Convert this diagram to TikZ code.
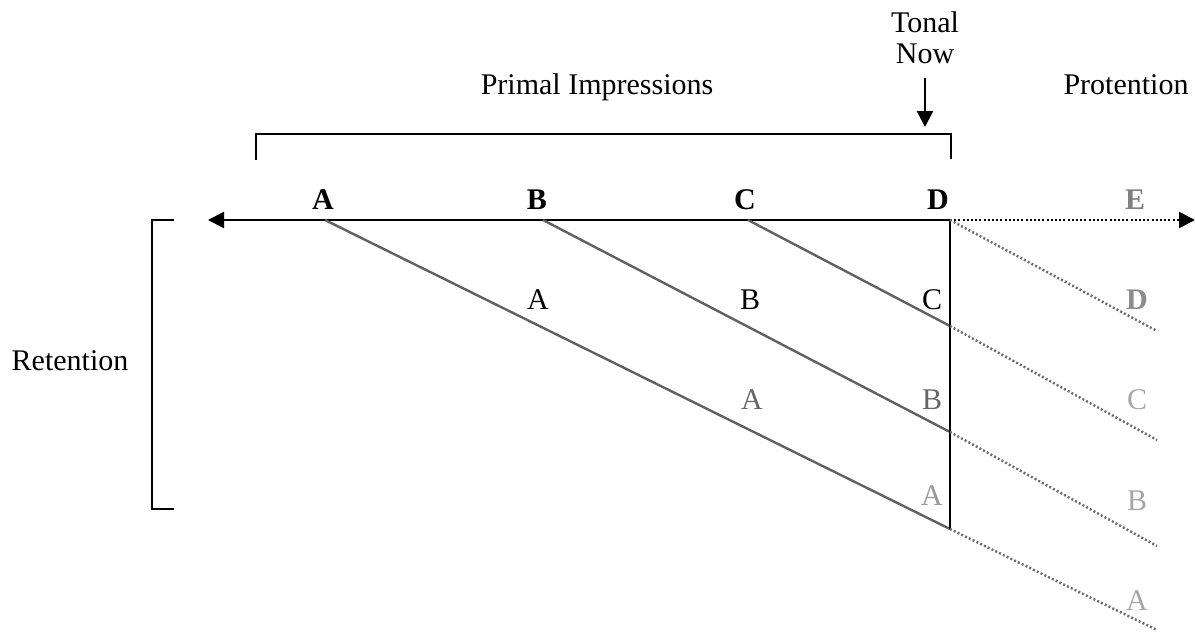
\documentclass[tikz,border=0pt]{standalone}
\usepackage{fontspec}
\setmainfont{Liberation Serif}
\usetikzlibrary{arrows.meta}
\begin{document}
\begin{tikzpicture}[x=1pt,y=-1pt,
  lbl/.style={anchor=base,inner sep=0pt,font=\fontsize{30}{34}\selectfont},
  blbl/.style={lbl,font=\fontsize{30}{34}\selectfont\bfseries},
  axis/.style={line width=2.4pt,black},
  diag/.style={line width=2.4pt,color=black!62},
  dots/.style={line width=2.4pt,color=black!58,dash pattern=on 2pt off 2.2pt},
  tip/.style={-{Triangle[length=16pt,width=16pt]}}]
\useasboundingbox (0,0) rectangle (1195,632);
% key points
\coordinate (pA) at (325,220);
\coordinate (pB) at (543,220);
\coordinate (pC) at (748,220);
\coordinate (pD) at (950,220);
\coordinate (lend) at (208,220);
\coordinate (rend) at (1195,220);
\coordinate (vC) at (950,326);
\coordinate (vB) at (950,432);
\coordinate (vA) at (950,529);
\coordinate (eD) at (1157,331);
\coordinate (eC) at (1157,440);
\coordinate (eB) at (1157,546);
\coordinate (eA) at (1157,630);
% text
\node[lbl] (tonal) at (925,32) {Tonal};
\node[lbl] (now) at (925,63) {Now};
\node[lbl] (primal) at (597,94) {Primal Impressions};
\node[lbl] (prot) at (1126,94) {Protention};
\node[lbl] (ret) at (70,370) {Retention};
\node[blbl] (lA) at (323,209) {A};
\node[blbl] (lB) at (537,209) {B};
\node[blbl] (lC) at (745,209) {C};
\node[blbl] (lD) at (938,209) {D};
\node[blbl,text=black!50] (lE) at (1135,209) {E};
\node[lbl] (m1A) at (538,309) {A};
\node[lbl] (m1B) at (750,309) {B};
\node[lbl] (m1C) at (932,309) {C};
\node[blbl,text=black!45] (r1D) at (1137,309) {D};
\node[lbl,text=black!60] (m2A) at (752,409) {A};
\node[lbl,text=black!60] (m2B) at (932,409) {B};
\node[lbl,text=black!35] (r2C) at (1137,409) {C};
\node[lbl,text=black!40] (m3A) at (932,505) {A};
\node[lbl,text=black!35] (r3B) at (1137,510) {B};
\node[lbl,text=black!35] (r4A) at (1137,610) {A};
% brackets
\coordinate (tb1) at (256,160);
\coordinate (tb2) at (256,134);
\coordinate (tb3) at (951,134);
\coordinate (tb4) at (951,159);
\draw[line width=2.4pt] (tb1) -- (tb2) -- (tb3) -- (tb4);
\coordinate (rb1) at (174,220);
\coordinate (rb2) at (152,220);
\coordinate (rb3) at (152,509);
\coordinate (rb4) at (174,509);
\draw[line width=2.4pt] (rb1) -- (rb2) -- (rb3) -- (rb4);
% tonal now arrow
\coordinate (ta1) at (925,78);
\coordinate (ta2) at (925,127);
\draw[line width=2.4pt,tip] (ta1) -- (ta2);
% axis
\draw[axis,tip] (pD) -- (lend);
\draw[dots,black,tip] (pD) -- (rend);
% diagonals
\draw[diag] (pA) -- (vA);
\draw[diag] (pB) -- (vB);
\draw[diag] (pC) -- (vC);
\draw[axis] (pD) -- (vA);
% dotted continuations
\draw[dots] (pD) -- (eD);
\draw[dots] (vC) -- (eC);
\draw[dots] (vB) -- (eB);
\draw[dots] (vA) -- (eA);
\end{tikzpicture}
\end{document}
